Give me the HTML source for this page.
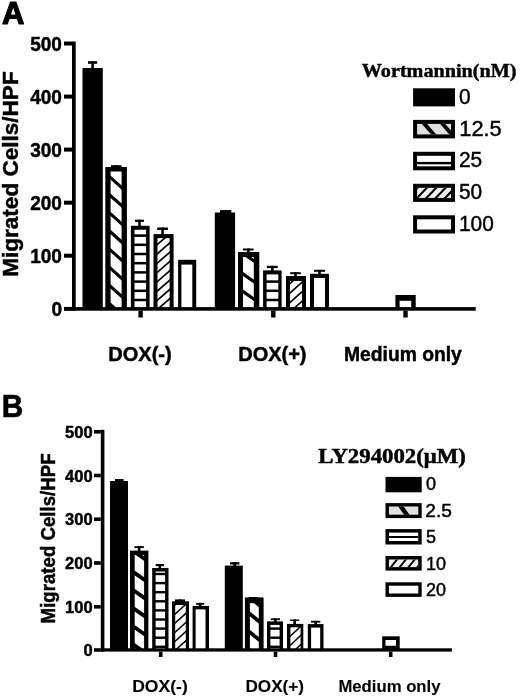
<!DOCTYPE html>
<html><head><meta charset="utf-8"><title>Figure</title>
<style>html,body{margin:0;padding:0;background:#fff;}svg{display:block;}text{stroke:#000;stroke-width:0.45px;}</style></head>
<body><svg width="520" height="697" viewBox="0 0 520 697">
<rect x="0" y="0" width="520" height="697" fill="#fff"/>
<rect x="72.00" y="41.50" width="3.70" height="269.20" fill="#000"/>
<rect x="64.00" y="41.50" width="8.00" height="4.00" fill="#000"/>
<rect x="64.00" y="94.60" width="8.00" height="4.00" fill="#000"/>
<rect x="64.00" y="147.60" width="8.00" height="4.00" fill="#000"/>
<rect x="64.00" y="200.70" width="8.00" height="4.00" fill="#000"/>
<rect x="64.00" y="253.70" width="8.00" height="4.00" fill="#000"/>
<rect x="64.00" y="306.90" width="8.00" height="4.00" fill="#000"/>
<rect x="138.40" y="310.70" width="4.40" height="6.80" fill="#000"/>
<rect x="271.10" y="310.70" width="4.40" height="6.80" fill="#000"/>
<rect x="403.30" y="310.70" width="4.40" height="6.80" fill="#000"/>
<text x="0.00" y="0.00" font-family="'Liberation Sans', sans-serif" font-size="20" font-weight="bold" text-anchor="end" transform="translate(62.0,50.70) scale(0.955,1)">500</text>
<text x="0.00" y="0.00" font-family="'Liberation Sans', sans-serif" font-size="20" font-weight="bold" text-anchor="end" transform="translate(62.0,103.80) scale(0.955,1)">400</text>
<text x="0.00" y="0.00" font-family="'Liberation Sans', sans-serif" font-size="20" font-weight="bold" text-anchor="end" transform="translate(62.0,156.80) scale(0.955,1)">300</text>
<text x="0.00" y="0.00" font-family="'Liberation Sans', sans-serif" font-size="20" font-weight="bold" text-anchor="end" transform="translate(62.0,209.90) scale(0.955,1)">200</text>
<text x="0.00" y="0.00" font-family="'Liberation Sans', sans-serif" font-size="20" font-weight="bold" text-anchor="end" transform="translate(62.0,262.90) scale(0.955,1)">100</text>
<text x="0.00" y="0.00" font-family="'Liberation Sans', sans-serif" font-size="20" font-weight="bold" text-anchor="end" transform="translate(62.0,316.10) scale(0.955,1)">0</text>
<text x="2.00" y="23.90" font-family="'Liberation Sans', sans-serif" font-size="31" font-weight="bold" text-anchor="start" style="stroke-width:1.2px;stroke-linejoin:round">A</text>
<text x="0.00" y="0.00" font-family="'Liberation Sans', sans-serif" font-size="21.5" font-weight="bold" text-anchor="start" transform="translate(18.2,276.8) rotate(-90)" textLength="205.5" lengthAdjust="spacingAndGlyphs">Migrated Cells/HPF</text>
<text x="108.30" y="361.30" font-family="'Liberation Sans', sans-serif" font-size="20" font-weight="bold" text-anchor="start" >DOX(-)</text>
<text x="238.20" y="361.20" font-family="'Liberation Sans', sans-serif" font-size="20" font-weight="bold" text-anchor="start" >DOX(+)</text>
<text x="344.00" y="361.00" font-family="'Liberation Sans', sans-serif" font-size="19.3" font-weight="bold" text-anchor="start" >Medium only</text>
<rect x="82.50" y="68.00" width="20.30" height="240.00" fill="#000"/>
<rect x="88.00" y="61.20" width="9.20" height="2.60" fill="#000"/>
<rect x="91.30" y="61.20" width="2.60" height="7.80" fill="#000"/>
<rect x="105.30" y="167.00" width="21.60" height="141.00" fill="#000"/>
<rect x="110.60" y="171.50" width="11.00" height="136.50" fill="#fff"/>
<clipPath id="c1"><rect x="109.60" y="170.50" width="13.00" height="138.50"/></clipPath>
<g clip-path="url(#c1)"><line x1="108.60" y1="302.85" x2="123.60" y2="316.35" stroke="#000" stroke-width="3.1"/><line x1="108.60" y1="284.70" x2="123.60" y2="298.20" stroke="#000" stroke-width="3.1"/><line x1="108.60" y1="266.55" x2="123.60" y2="280.05" stroke="#000" stroke-width="3.1"/><line x1="108.60" y1="248.40" x2="123.60" y2="261.90" stroke="#000" stroke-width="3.1"/><line x1="108.60" y1="230.25" x2="123.60" y2="243.75" stroke="#000" stroke-width="3.1"/><line x1="108.60" y1="212.10" x2="123.60" y2="225.60" stroke="#000" stroke-width="3.1"/><line x1="108.60" y1="193.95" x2="123.60" y2="207.45" stroke="#000" stroke-width="3.1"/><line x1="108.60" y1="175.80" x2="123.60" y2="189.30" stroke="#000" stroke-width="3.1"/><line x1="108.60" y1="157.65" x2="123.60" y2="171.15" stroke="#000" stroke-width="3.1"/></g>
<rect x="111.00" y="165.20" width="10.60" height="2.80" fill="#000"/>
<rect x="115.00" y="165.20" width="2.60" height="2.80" fill="#000"/>
<rect x="130.90" y="225.80" width="18.70" height="82.20" fill="#000"/>
<rect x="134.50" y="229.80" width="11.60" height="78.20" fill="#fff"/>
<clipPath id="c2"><rect x="133.50" y="228.80" width="13.60" height="80.20"/></clipPath>
<g clip-path="url(#c2)"><rect x="133.50" y="298.75" width="13.60" height="2.50"/><rect x="133.50" y="289.55" width="13.60" height="2.50"/><rect x="133.50" y="280.35" width="13.60" height="2.50"/><rect x="133.50" y="271.15" width="13.60" height="2.50"/><rect x="133.50" y="261.95" width="13.60" height="2.50"/><rect x="133.50" y="252.75" width="13.60" height="2.50"/><rect x="133.50" y="243.55" width="13.60" height="2.50"/><rect x="133.50" y="234.35" width="13.60" height="2.50"/><rect x="133.50" y="225.15" width="13.60" height="2.50"/></g>
<rect x="134.90" y="219.70" width="9.10" height="2.20" fill="#000"/>
<rect x="138.15" y="219.70" width="2.60" height="7.10" fill="#000"/>
<rect x="153.50" y="234.10" width="20.10" height="73.90" fill="#000"/>
<rect x="157.50" y="238.10" width="12.10" height="69.90" fill="#fff"/>
<clipPath id="c3"><rect x="156.50" y="237.10" width="14.10" height="71.90"/></clipPath>
<g clip-path="url(#c3)"><line x1="155.50" y1="311.04" x2="171.60" y2="297.03" stroke="#000" stroke-width="1.7" /><line x1="155.50" y1="301.77" x2="171.60" y2="287.76" stroke="#000" stroke-width="1.7" /><line x1="155.50" y1="292.50" x2="171.60" y2="278.49" stroke="#000" stroke-width="1.7" /><line x1="155.50" y1="283.23" x2="171.60" y2="269.22" stroke="#000" stroke-width="1.7" /><line x1="155.50" y1="273.96" x2="171.60" y2="259.95" stroke="#000" stroke-width="1.7" /><line x1="155.50" y1="264.69" x2="171.60" y2="250.68" stroke="#000" stroke-width="1.7" /><line x1="155.50" y1="255.42" x2="171.60" y2="241.41" stroke="#000" stroke-width="1.7" /><line x1="155.50" y1="246.15" x2="171.60" y2="232.14" stroke="#000" stroke-width="1.7" /><line x1="155.50" y1="236.88" x2="171.60" y2="222.87" stroke="#000" stroke-width="1.7" /><line x1="155.50" y1="320.31" x2="171.60" y2="306.30" stroke="#000" stroke-width="1.7" /></g>
<rect x="157.20" y="227.50" width="10.70" height="2.50" fill="#000"/>
<rect x="161.25" y="227.50" width="2.60" height="7.60" fill="#000"/>
<rect x="178.10" y="259.80" width="18.10" height="48.20" fill="#000"/>
<rect x="181.40" y="264.60" width="10.90" height="43.40" fill="#fff"/>
<clipPath id="c4"><rect x="180.40" y="263.60" width="12.90" height="45.40"/></clipPath>
<rect x="214.80" y="212.50" width="20.30" height="95.50" fill="#000"/>
<rect x="220.10" y="210.10" width="11.20" height="3.40" fill="#000"/>
<rect x="224.40" y="210.10" width="2.60" height="3.40" fill="#000"/>
<rect x="238.00" y="252.00" width="21.30" height="56.00" fill="#000"/>
<rect x="243.00" y="257.00" width="10.80" height="51.00" fill="#fff"/>
<clipPath id="c5"><rect x="242.00" y="256.00" width="12.80" height="53.00"/></clipPath>
<g clip-path="url(#c5)"><line x1="241.00" y1="251.90" x2="255.80" y2="262.26" stroke="#000" stroke-width="3.3"/><line x1="241.00" y1="272.60" x2="255.80" y2="282.96" stroke="#000" stroke-width="3.3"/><line x1="241.00" y1="290.10" x2="255.80" y2="300.46" stroke="#000" stroke-width="3.3"/><line x1="241.00" y1="307.60" x2="255.80" y2="317.96" stroke="#000" stroke-width="3.3"/></g>
<rect x="243.00" y="248.50" width="10.60" height="2.00" fill="#000"/>
<rect x="247.00" y="248.50" width="2.60" height="4.50" fill="#000"/>
<rect x="263.10" y="270.40" width="18.50" height="37.60" fill="#000"/>
<rect x="266.60" y="274.40" width="11.70" height="33.60" fill="#fff"/>
<clipPath id="c6"><rect x="265.60" y="273.40" width="13.70" height="35.60"/></clipPath>
<g clip-path="url(#c6)"><rect x="265.60" y="298.75" width="13.70" height="2.50"/><rect x="265.60" y="289.55" width="13.70" height="2.50"/><rect x="265.60" y="280.35" width="13.70" height="2.50"/><rect x="265.60" y="271.15" width="13.70" height="2.50"/></g>
<rect x="266.90" y="265.80" width="10.80" height="2.30" fill="#000"/>
<rect x="271.00" y="265.80" width="2.60" height="5.60" fill="#000"/>
<rect x="286.00" y="276.00" width="20.00" height="32.00" fill="#000"/>
<rect x="290.00" y="281.00" width="12.00" height="27.00" fill="#fff"/>
<clipPath id="c7"><rect x="289.00" y="280.00" width="14.00" height="29.00"/></clipPath>
<g clip-path="url(#c7)"><line x1="288.00" y1="313.80" x2="304.00" y2="299.40" stroke="#000" stroke-width="1.7" /><line x1="288.00" y1="304.30" x2="304.00" y2="289.90" stroke="#000" stroke-width="1.7" /><line x1="288.00" y1="294.80" x2="304.00" y2="280.40" stroke="#000" stroke-width="1.7" /><line x1="288.00" y1="285.30" x2="304.00" y2="270.90" stroke="#000" stroke-width="1.7" /><line x1="288.00" y1="275.80" x2="304.00" y2="261.40" stroke="#000" stroke-width="1.7" /><line x1="288.00" y1="323.30" x2="304.00" y2="308.90" stroke="#000" stroke-width="1.7" /></g>
<rect x="290.20" y="272.20" width="10.60" height="2.00" fill="#000"/>
<rect x="294.20" y="272.20" width="2.60" height="4.80" fill="#000"/>
<rect x="310.00" y="273.80" width="19.00" height="34.20" fill="#000"/>
<rect x="314.00" y="278.00" width="11.00" height="30.00" fill="#fff"/>
<clipPath id="c8"><rect x="313.00" y="277.00" width="13.00" height="32.00"/></clipPath>
<rect x="314.00" y="269.80" width="11.00" height="2.00" fill="#000"/>
<rect x="318.20" y="269.80" width="2.60" height="5.00" fill="#000"/>
<rect x="395.40" y="295.00" width="20.30" height="13.00" fill="#000"/>
<rect x="399.60" y="300.80" width="11.60" height="7.20" fill="#fff"/>
<clipPath id="c9"><rect x="398.60" y="299.80" width="13.60" height="9.20"/></clipPath>
<rect x="72.00" y="307.10" width="403.70" height="3.60" fill="#000"/>
<text x="0.00" y="0.00" font-family="'Liberation Serif', serif" font-size="19.5" font-weight="bold" text-anchor="start" transform="translate(361.8,77.2) scale(1.035,1)">Wortmannin(nM)</text>
<rect x="413.10" y="88.30" width="41.90" height="18.10" fill="#000"/>
<rect x="413.10" y="119.90" width="41.90" height="18.50" fill="#000"/>
<rect x="417.10" y="123.90" width="33.90" height="10.50" fill="#e0e0e0"/>
<clipPath id="c10"><rect x="417.10" y="123.90" width="33.90" height="10.50"/></clipPath>
<g clip-path="url(#c10)"><line x1="422.41" y1="121.65" x2="435.69" y2="136.65" stroke="#000" stroke-width="3.9" /><line x1="440.61" y1="121.65" x2="453.89" y2="136.65" stroke="#000" stroke-width="3.9" /></g>
<rect x="413.10" y="151.80" width="41.90" height="18.50" fill="#000"/>
<rect x="417.10" y="155.80" width="33.90" height="10.50" fill="#fff"/>
<clipPath id="c11"><rect x="417.10" y="155.80" width="33.90" height="10.50"/></clipPath>
<g clip-path="url(#c11)"><rect x="416.10" y="161.90" width="35.90" height="2.4"/></g>
<rect x="413.10" y="183.80" width="41.90" height="18.10" fill="#000"/>
<rect x="417.10" y="187.80" width="33.90" height="10.10" fill="#f2f2f2"/>
<clipPath id="c12"><rect x="417.10" y="187.80" width="33.90" height="10.10"/></clipPath>
<g clip-path="url(#c12)"><line x1="405.72" y1="200.06" x2="419.58" y2="185.64" stroke="#000" stroke-width="2.1" /><line x1="415.07" y1="200.06" x2="428.93" y2="185.64" stroke="#000" stroke-width="2.1" /><line x1="424.42" y1="200.06" x2="438.28" y2="185.64" stroke="#000" stroke-width="2.1" /><line x1="433.77" y1="200.06" x2="447.63" y2="185.64" stroke="#000" stroke-width="2.1" /><line x1="443.12" y1="200.06" x2="456.98" y2="185.64" stroke="#000" stroke-width="2.1" /><line x1="452.47" y1="200.06" x2="466.33" y2="185.64" stroke="#000" stroke-width="2.1" /></g>
<rect x="413.10" y="215.30" width="41.90" height="18.20" fill="#000"/>
<rect x="417.10" y="219.30" width="33.90" height="10.20" fill="#fff"/>
<text x="0.00" y="0.00" font-family="'Liberation Sans', sans-serif" font-size="22" font-weight="normal" text-anchor="start" transform="translate(458.9,103.70) scale(0.95,1)">0</text>
<text x="0.00" y="0.00" font-family="'Liberation Sans', sans-serif" font-size="22" font-weight="normal" text-anchor="start" transform="translate(459.3,135.90) scale(0.99,1)">12.5</text>
<text x="0.00" y="0.00" font-family="'Liberation Sans', sans-serif" font-size="22" font-weight="normal" text-anchor="start" transform="translate(458.9,167.20) scale(0.95,1)">25</text>
<text x="0.00" y="0.00" font-family="'Liberation Sans', sans-serif" font-size="22" font-weight="normal" text-anchor="start" transform="translate(458.9,199.20) scale(0.95,1)">50</text>
<text x="0.00" y="0.00" font-family="'Liberation Sans', sans-serif" font-size="22" font-weight="normal" text-anchor="start" transform="translate(458.9,230.70) scale(0.95,1)">100</text>
<rect x="100.80" y="429.80" width="3.60" height="221.80" fill="#000"/>
<rect x="94.00" y="430.00" width="6.80" height="3.60" fill="#000"/>
<rect x="94.00" y="473.70" width="6.80" height="3.60" fill="#000"/>
<rect x="94.00" y="517.40" width="6.80" height="3.60" fill="#000"/>
<rect x="94.00" y="561.20" width="6.80" height="3.60" fill="#000"/>
<rect x="94.00" y="605.00" width="6.80" height="3.60" fill="#000"/>
<rect x="94.00" y="648.20" width="6.80" height="3.60" fill="#000"/>
<rect x="158.90" y="651.60" width="3.60" height="5.40" fill="#000"/>
<rect x="273.70" y="651.60" width="3.60" height="5.40" fill="#000"/>
<rect x="388.90" y="651.60" width="3.60" height="5.40" fill="#000"/>
<text x="92.60" y="437.80" font-family="'Liberation Sans', sans-serif" font-size="16.5" font-weight="bold" text-anchor="end" >500</text>
<text x="92.60" y="481.50" font-family="'Liberation Sans', sans-serif" font-size="16.5" font-weight="bold" text-anchor="end" >400</text>
<text x="92.60" y="525.20" font-family="'Liberation Sans', sans-serif" font-size="16.5" font-weight="bold" text-anchor="end" >300</text>
<text x="92.60" y="569.00" font-family="'Liberation Sans', sans-serif" font-size="16.5" font-weight="bold" text-anchor="end" >200</text>
<text x="92.60" y="612.80" font-family="'Liberation Sans', sans-serif" font-size="16.5" font-weight="bold" text-anchor="end" >100</text>
<text x="92.60" y="656.00" font-family="'Liberation Sans', sans-serif" font-size="16.5" font-weight="bold" text-anchor="end" >0</text>
<text x="0.00" y="0.00" font-family="'Liberation Sans', sans-serif" font-size="31.3" font-weight="bold" text-anchor="start" transform="translate(1.8,416.7) scale(0.95,1)" style="stroke-width:0.6px;stroke-linejoin:round">B</text>
<text x="0.00" y="0.00" font-family="'Liberation Sans', sans-serif" font-size="20.6" font-weight="bold" text-anchor="start" transform="translate(54.9,623.4) rotate(-90)" textLength="170" lengthAdjust="spacingAndGlyphs">Migrated Cells/HPF</text>
<text x="0.00" y="0.00" font-family="'Liberation Sans', sans-serif" font-size="16.5" font-weight="bold" text-anchor="start" transform="translate(132.2,691.8) scale(1.064,1)" style="stroke-width:0.1px">DOX(-)</text>
<text x="0.00" y="0.00" font-family="'Liberation Sans', sans-serif" font-size="16.5" font-weight="bold" text-anchor="start" transform="translate(245.4,691.5) scale(1.041,1)" style="stroke-width:0.1px">DOX(+)</text>
<text x="0.00" y="0.00" font-family="'Liberation Sans', sans-serif" font-size="16.5" font-weight="bold" text-anchor="start" transform="translate(338.4,691.6) scale(1.013,1)" style="stroke-width:0.1px">Medium only</text>
<rect x="110.00" y="481.00" width="18.00" height="168.50" fill="#000"/>
<rect x="115.00" y="479.00" width="8.60" height="3.00" fill="#000"/>
<rect x="118.00" y="479.00" width="2.60" height="3.00" fill="#000"/>
<rect x="130.00" y="550.60" width="18.40" height="98.90" fill="#000"/>
<rect x="134.70" y="555.00" width="9.40" height="94.50" fill="#fff"/>
<clipPath id="c13"><rect x="133.70" y="554.00" width="11.40" height="96.50"/></clipPath>
<g clip-path="url(#c13)"><line x1="132.70" y1="550.62" x2="146.10" y2="559.87" stroke="#000" stroke-width="3.8"/><line x1="132.70" y1="571.62" x2="146.10" y2="580.87" stroke="#000" stroke-width="3.8"/><line x1="132.70" y1="589.82" x2="146.10" y2="599.07" stroke="#000" stroke-width="3.8"/><line x1="132.70" y1="607.92" x2="146.10" y2="617.17" stroke="#000" stroke-width="3.8"/><line x1="132.70" y1="626.02" x2="146.10" y2="635.27" stroke="#000" stroke-width="3.8"/><line x1="132.70" y1="644.12" x2="146.10" y2="653.37" stroke="#000" stroke-width="3.8"/></g>
<rect x="134.50" y="546.10" width="9.30" height="2.00" fill="#000"/>
<rect x="137.85" y="546.10" width="2.60" height="5.50" fill="#000"/>
<rect x="152.20" y="568.00" width="16.30" height="81.50" fill="#000"/>
<rect x="155.60" y="571.50" width="9.50" height="78.00" fill="#fff"/>
<clipPath id="c14"><rect x="154.60" y="570.50" width="11.50" height="80.00"/></clipPath>
<g clip-path="url(#c14)"><rect x="154.60" y="645.60" width="11.50" height="2.40"/><rect x="154.60" y="636.50" width="11.50" height="2.40"/><rect x="154.60" y="627.40" width="11.50" height="2.40"/><rect x="154.60" y="618.30" width="11.50" height="2.40"/><rect x="154.60" y="609.20" width="11.50" height="2.40"/><rect x="154.60" y="600.10" width="11.50" height="2.40"/><rect x="154.60" y="591.00" width="11.50" height="2.40"/><rect x="154.60" y="581.90" width="11.50" height="2.40"/><rect x="154.60" y="572.80" width="11.50" height="2.40"/><rect x="154.60" y="563.70" width="11.50" height="2.40"/></g>
<rect x="155.70" y="564.00" width="8.30" height="2.20" fill="#000"/>
<rect x="158.55" y="564.00" width="2.60" height="5.00" fill="#000"/>
<rect x="172.00" y="601.30" width="17.00" height="48.20" fill="#000"/>
<rect x="175.20" y="605.00" width="10.60" height="44.50" fill="#fff"/>
<clipPath id="c15"><rect x="174.20" y="604.00" width="12.60" height="46.50"/></clipPath>
<g clip-path="url(#c15)"><line x1="173.20" y1="652.10" x2="187.80" y2="638.96" stroke="#000" stroke-width="1.5" /><line x1="173.20" y1="643.00" x2="187.80" y2="629.86" stroke="#000" stroke-width="1.5" /><line x1="173.20" y1="633.90" x2="187.80" y2="620.76" stroke="#000" stroke-width="1.5" /><line x1="173.20" y1="624.80" x2="187.80" y2="611.66" stroke="#000" stroke-width="1.5" /><line x1="173.20" y1="615.70" x2="187.80" y2="602.56" stroke="#000" stroke-width="1.5" /><line x1="173.20" y1="606.60" x2="187.80" y2="593.46" stroke="#000" stroke-width="1.5" /><line x1="173.20" y1="661.20" x2="187.80" y2="648.06" stroke="#000" stroke-width="1.5" /></g>
<rect x="175.00" y="599.40" width="10.00" height="2.90" fill="#000"/>
<rect x="178.70" y="599.40" width="2.60" height="2.90" fill="#000"/>
<rect x="192.60" y="605.90" width="16.40" height="43.60" fill="#000"/>
<rect x="195.60" y="609.40" width="9.90" height="40.10" fill="#fff"/>
<clipPath id="c16"><rect x="194.60" y="608.40" width="11.90" height="42.10"/></clipPath>
<rect x="196.10" y="602.90" width="8.10" height="1.90" fill="#000"/>
<rect x="198.85" y="602.90" width="2.60" height="4.00" fill="#000"/>
<rect x="224.80" y="565.60" width="18.00" height="83.90" fill="#000"/>
<rect x="230.00" y="562.20" width="9.40" height="2.30" fill="#000"/>
<rect x="233.40" y="562.20" width="2.60" height="4.40" fill="#000"/>
<rect x="244.90" y="597.40" width="18.70" height="52.10" fill="#000"/>
<rect x="249.90" y="603.20" width="8.90" height="46.30" fill="#fff"/>
<clipPath id="c17"><rect x="248.90" y="602.20" width="10.90" height="48.30"/></clipPath>
<g clip-path="url(#c17)"><line x1="247.90" y1="595.90" x2="260.80" y2="606.22" stroke="#000" stroke-width="3.8"/><line x1="247.90" y1="612.40" x2="260.80" y2="622.72" stroke="#000" stroke-width="3.8"/><line x1="247.90" y1="630.70" x2="260.80" y2="641.02" stroke="#000" stroke-width="3.8"/><line x1="247.90" y1="649.00" x2="260.80" y2="659.32" stroke="#000" stroke-width="3.8"/></g>
<rect x="249.00" y="597.00" width="9.00" height="1.40" fill="#000"/>
<rect x="252.20" y="597.00" width="2.60" height="1.40" fill="#000"/>
<rect x="267.00" y="621.40" width="16.00" height="28.10" fill="#000"/>
<rect x="270.40" y="624.90" width="9.20" height="24.60" fill="#fff"/>
<clipPath id="c18"><rect x="269.40" y="623.90" width="11.20" height="26.60"/></clipPath>
<g clip-path="url(#c18)"><rect x="269.40" y="645.60" width="11.20" height="2.40"/><rect x="269.40" y="636.50" width="11.20" height="2.40"/><rect x="269.40" y="627.40" width="11.20" height="2.40"/><rect x="269.40" y="618.30" width="11.20" height="2.40"/></g>
<rect x="270.80" y="618.30" width="9.20" height="1.80" fill="#000"/>
<rect x="274.10" y="618.30" width="2.60" height="4.10" fill="#000"/>
<rect x="287.00" y="623.90" width="16.30" height="25.60" fill="#000"/>
<rect x="290.40" y="627.30" width="10.20" height="22.20" fill="#fff"/>
<clipPath id="c19"><rect x="289.40" y="626.30" width="12.20" height="24.20"/></clipPath>
<g clip-path="url(#c19)"><line x1="288.40" y1="646.96" x2="302.60" y2="633.75" stroke="#000" stroke-width="1.5" /><line x1="288.40" y1="637.86" x2="302.60" y2="624.65" stroke="#000" stroke-width="1.5" /><line x1="288.40" y1="628.76" x2="302.60" y2="615.55" stroke="#000" stroke-width="1.5" /><line x1="288.40" y1="656.06" x2="302.60" y2="642.85" stroke="#000" stroke-width="1.5" /><line x1="288.40" y1="665.16" x2="302.60" y2="651.95" stroke="#000" stroke-width="1.5" /></g>
<rect x="290.10" y="619.50" width="9.10" height="1.40" fill="#000"/>
<rect x="293.35" y="619.50" width="2.60" height="5.40" fill="#000"/>
<rect x="307.80" y="624.10" width="15.70" height="25.40" fill="#000"/>
<rect x="311.10" y="627.60" width="9.10" height="21.90" fill="#fff"/>
<clipPath id="c20"><rect x="310.10" y="626.60" width="11.10" height="23.90"/></clipPath>
<rect x="311.00" y="620.80" width="9.30" height="1.80" fill="#000"/>
<rect x="314.35" y="620.80" width="2.60" height="4.30" fill="#000"/>
<rect x="382.20" y="636.30" width="17.50" height="13.20" fill="#000"/>
<rect x="385.50" y="640.00" width="10.50" height="5.75" fill="#fff"/>
<clipPath id="c21"><rect x="384.50" y="639.00" width="12.50" height="7.75"/></clipPath>
<rect x="100.80" y="648.30" width="351.10" height="3.30" fill="#000"/>
<text x="0.00" y="0.00" font-family="'Liberation Serif', serif" font-size="20" font-weight="bold" text-anchor="start" transform="translate(318.3,463.0) scale(1.14,1)">LY294002(μM)</text>
<rect x="385.50" y="476.90" width="36.20" height="15.40" fill="#000"/>
<rect x="385.50" y="503.10" width="36.20" height="15.00" fill="#000"/>
<rect x="388.90" y="506.50" width="29.40" height="8.20" fill="#e0e0e0"/>
<clipPath id="c22"><rect x="388.90" y="506.50" width="29.40" height="8.20"/></clipPath>
<g clip-path="url(#c22)"><line x1="399.15" y1="504.06" x2="408.55" y2="517.14" stroke="#000" stroke-width="4.4" /></g>
<rect x="385.50" y="529.10" width="36.20" height="15.40" fill="#000"/>
<rect x="389.00" y="532.60" width="29.20" height="8.40" fill="#fff"/>
<clipPath id="c23"><rect x="389.00" y="532.60" width="29.20" height="8.40"/></clipPath>
<g clip-path="url(#c23)"><rect x="388.00" y="536.00" width="31.20" height="2.0"/></g>
<rect x="385.50" y="556.00" width="36.20" height="14.60" fill="#000"/>
<rect x="389.00" y="559.50" width="29.20" height="7.60" fill="#f2f2f2"/>
<clipPath id="c24"><rect x="389.00" y="559.50" width="29.20" height="7.60"/></clipPath>
<g clip-path="url(#c24)"><line x1="380.34" y1="569.45" x2="390.06" y2="557.15" stroke="#000" stroke-width="1.9" /><line x1="389.14" y1="569.45" x2="398.86" y2="557.15" stroke="#000" stroke-width="1.9" /><line x1="397.94" y1="569.45" x2="407.66" y2="557.15" stroke="#000" stroke-width="1.9" /><line x1="406.74" y1="569.45" x2="416.46" y2="557.15" stroke="#000" stroke-width="1.9" /><line x1="415.54" y1="569.45" x2="425.26" y2="557.15" stroke="#000" stroke-width="1.9" /><line x1="424.34" y1="569.45" x2="434.06" y2="557.15" stroke="#000" stroke-width="1.9" /></g>
<rect x="385.50" y="582.30" width="36.20" height="14.60" fill="#000"/>
<rect x="388.90" y="585.70" width="29.40" height="7.80" fill="#fff"/>
<text x="0.00" y="0.00" font-family="'Liberation Sans', sans-serif" font-size="18" font-weight="normal" text-anchor="start" transform="translate(426.1,489.60) scale(1,1)">0</text>
<text x="0.00" y="0.00" font-family="'Liberation Sans', sans-serif" font-size="18" font-weight="normal" text-anchor="start" transform="translate(425.3,516.80) scale(1.06,1)">2.5</text>
<text x="0.00" y="0.00" font-family="'Liberation Sans', sans-serif" font-size="18" font-weight="normal" text-anchor="start" transform="translate(426.1,542.80) scale(1,1)">5</text>
<text x="0.00" y="0.00" font-family="'Liberation Sans', sans-serif" font-size="18" font-weight="normal" text-anchor="start" transform="translate(426.1,569.70) scale(1,1)">10</text>
<text x="0.00" y="0.00" font-family="'Liberation Sans', sans-serif" font-size="18" font-weight="normal" text-anchor="start" transform="translate(426.1,596.00) scale(1,1)">20</text>
</svg></body></html>
